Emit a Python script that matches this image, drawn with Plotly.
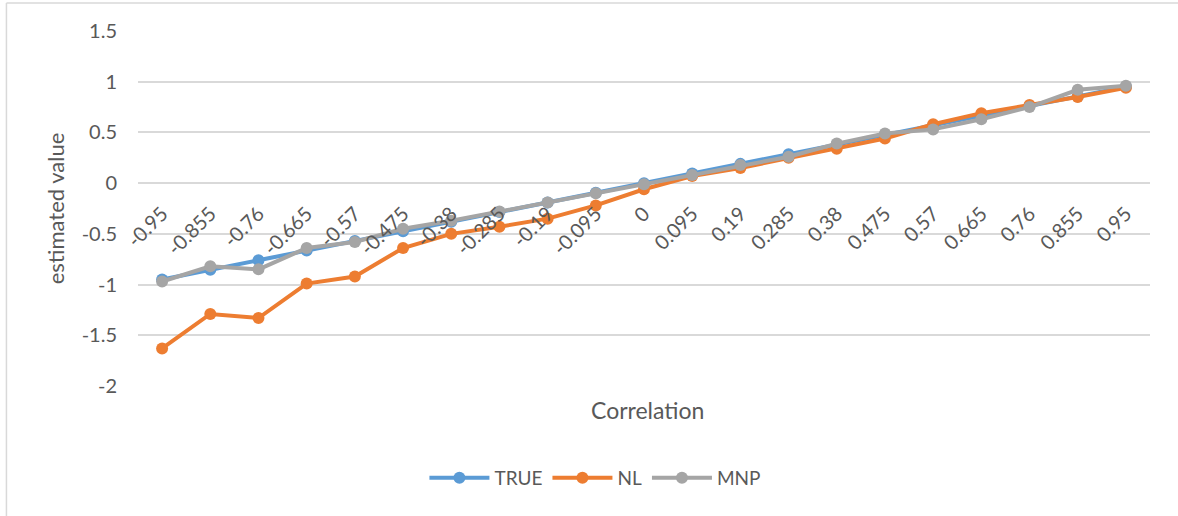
import plotly.graph_objects as go

categories = ["-0.95", "-0.855", "-0.76", "-0.665", "-0.57", "-0.475", "-0.38", "-0.285", "-0.19", "-0.095",
              "0", "0.095", "0.19", "0.285", "0.38", "0.475", "0.57", "0.665", "0.76", "0.855", "0.95"]
true_vals = [-0.95, -0.855, -0.76, -0.665, -0.57, -0.475, -0.38, -0.285, -0.19, -0.095,
             0, 0.095, 0.19, 0.285, 0.38, 0.475, 0.57, 0.665, 0.76, 0.855, 0.95]
nl_vals = [-1.63, -1.29, -1.33, -0.99, -0.92, -0.64, -0.50, -0.43, -0.35, -0.22,
           -0.06, 0.07, 0.15, 0.25, 0.34, 0.44, 0.58, 0.69, 0.77, 0.85, 0.94]
mnp_vals = [-0.97, -0.82, -0.85, -0.64, -0.58, -0.45, -0.37, -0.28, -0.19, -0.10,
            -0.01, 0.08, 0.18, 0.26, 0.39, 0.49, 0.53, 0.63, 0.75, 0.92, 0.96]
y_ticks = [-2, -1.5, -1, -0.5, 0, 0.5, 1, 1.5]

series = [("TRUE", true_vals, "#5B9BD5"), ("NL", nl_vals, "#ED7D31"), ("MNP", mnp_vals, "#A5A5A5")]

font_family = "Lato, 'Open Sans', sans-serif"
text_color = "#595959"
fs = 20

fig = go.Figure()
for name, vals, color in series:
    fig.add_trace(go.Scatter(
        x=categories, y=vals, name=name, mode="lines+markers",
        line=dict(color=color, width=4),
        marker=dict(color=color, size=12, symbol="circle"),
    ))

ymin, ymax = -2, 1.5
fig.update_layout(
    width=1178, height=516,
    margin=dict(l=138, r=28, t=31, b=130),
    paper_bgcolor="white", plot_bgcolor="white",
    font=dict(family=font_family, color=text_color, size=fs),
    showlegend=True,
    legend=dict(orientation="h", x=0.452, xanchor="center", y=-0.259, yanchor="middle",
                font=dict(size=19, color=text_color), itemwidth=60),
    xaxis=dict(
        type="category", range=[-0.5, len(categories) - 0.5],
        anchor="free", position=(0 - ymin) / (ymax - ymin),
        showgrid=False, showline=False, zeroline=False, ticks="",
        tickangle=-45, tickfont=dict(size=fs, color=text_color),
        ticklabelstandoff=14,
    ),
    yaxis=dict(
        range=[ymin, ymax], tickvals=y_ticks, ticktext=[f"{v:g}" for v in y_ticks],
        showgrid=True, gridcolor="#D9D9D9", gridwidth=1.5, zeroline=False,
        showline=False, ticks="", tickfont=dict(size=fs, color=text_color),
        ticklabelstandoff=20,
        title=dict(text="estimated value", font=dict(size=22, color=text_color), standoff=10),
    ),
    annotations=[dict(text="Correlation", xref="paper", yref="paper", x=0.503, y=-0.067,
                      xanchor="center", yanchor="middle", showarrow=False,
                      font=dict(size=23, color=text_color))],
    shapes=[
        dict(type="line", xref="paper", yref="paper", x0=-0.130, x1=1.04, y0=1.079, y1=1.079,
             line=dict(color="#D9D9D9", width=1.5)),
        dict(type="line", xref="paper", yref="paper", x0=-0.130, x1=-0.130, y0=1.079, y1=-0.40,
             line=dict(color="#D9D9D9", width=1.5)),
    ],
)

fig.write_html("out.html")
